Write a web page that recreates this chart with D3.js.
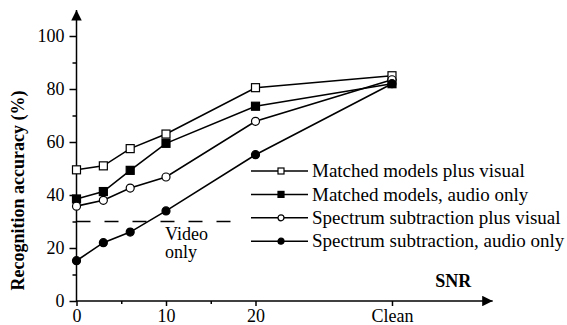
<!DOCTYPE html>
<html>
<head>
<meta charset="utf-8">
<script src="https://cdn.jsdelivr.net/npm/d3@7"></script>
<style>
  body { margin: 0; background: #fff; }
</style>
</head>
<body>
<div id="chart"></div>
<script>
// SNR positions; "Clean" sits past the end of the numeric axis
const CLEAN = 35.25;
const snr = [0, 3, 6, 10, 20, CLEAN];
const xTicks = [0, 10, 20, CLEAN];
const xTickLabels = ["0", "10", "20", "Clean"];
const xMinor = [5, 15];
const yTicks = [0, 20, 40, 60, 80, 100];
const yMinor = [10, 30, 50, 70, 90];

const seriesNames = [
  "Matched models plus visual",
  "Matched models, audio only",
  "Spectrum subtraction plus visual",
  "Spectrum subtraction, audio only"
];
const matchedVisual = [49.5, 51, 57.5, 63, 80.5, 85];
const matchedAudio = [38.5, 41.3, 49.3, 59.5, 73.5, 82];
const spectrumVisual = [35.8, 38, 42.6, 46.8, 67.8, 83.5];
const spectrumAudio = [15.2, 22, 26, 34, 55.2, 82];
const videoOnly = 30;
const videoLabel = ["Video", "only"];

const FONT = "'Liberation Serif', 'Times New Roman', serif";
const width = 567, height = 325;

const svg = d3.select("#chart").append("svg")
  .attr("width", width)
  .attr("height", height)
  .attr("font-family", FONT);

const x = d3.scaleLinear().domain([0, 20]).range([76.5, 255.5]);
const y = d3.scaleLinear().domain([0, 100]).range([301, 36]);

// axes with arrows
svg.append("defs").append("marker")
  .attr("id", "arrow")
  .attr("viewBox", "0 0 10 10")
  .attr("refX", 10).attr("refY", 5)
  .attr("markerWidth", 21).attr("markerHeight", 10.5)
  .attr("markerUnits", "userSpaceOnUse")
  .attr("orient", "auto")
  .append("path").attr("d", "M0,0L10,5L0,10Z").attr("fill", "#000");

svg.append("line")
  .attr("x1", x(0)).attr("y1", y(0))
  .attr("x2", x(46.5)).attr("y2", y(0))
  .attr("stroke", "#000").attr("stroke-width", 1.5)
  .attr("marker-end", "url(#arrow)");

svg.append("line")
  .attr("x1", x(0)).attr("y1", y(0) + 0.7)
  .attr("x2", x(0)).attr("y2", y(109.8))
  .attr("stroke", "#000").attr("stroke-width", 1.5)
  .attr("marker-end", "url(#arrow)");

const xAxis = d3.axisBottom(x)
  .tickValues(xTicks)
  .tickFormat((d, i) => xTickLabels[i])
  .tickSize(5)
  .tickPadding(3);
const gx = svg.append("g")
  .attr("transform", `translate(0,${y(0)})`)
  .call(xAxis)
  .attr("font-family", FONT)
  .attr("font-size", 18);
gx.select(".domain").remove();
gx.selectAll("line").attr("stroke-width", 1.5);

const xAxisMinor = d3.axisBottom(x).tickValues(xMinor).tickSize(3).tickFormat("");
const gxm = svg.append("g")
  .attr("transform", `translate(0,${y(0)})`)
  .call(xAxisMinor);
gxm.select(".domain").remove();
gxm.selectAll("line").attr("stroke-width", 1.5);

const yAxis = d3.axisLeft(y).tickValues(yTicks).tickSize(7).tickPadding(5);
const gy = svg.append("g")
  .attr("transform", `translate(${x(0)},0)`)
  .call(yAxis)
  .attr("font-family", FONT)
  .attr("font-size", 18);
gy.select(".domain").remove();
gy.selectAll("line").attr("stroke-width", 1.5);

const yAxisMinor = d3.axisLeft(y).tickValues(yMinor).tickSize(4).tickFormat("");
const gym = svg.append("g")
  .attr("transform", `translate(${x(0)},0)`)
  .call(yAxisMinor);
gym.select(".domain").remove();
gym.selectAll("line").attr("stroke-width", 1.5);

// axis titles
svg.append("text")
  .attr("transform", `translate(24,${(y(0) + y(100)) / 2 + 22}) rotate(-90)`)
  .attr("text-anchor", "middle")
  .attr("font-size", 18)
  .attr("font-weight", "bold")
  .text("Recognition accuracy (%)");

svg.append("text")
  .attr("x", x(42.1))
  .attr("y", 287)
  .attr("text-anchor", "middle")
  .attr("font-size", 18)
  .attr("font-weight", "bold")
  .text("SNR");

// video only reference
svg.append("line")
  .attr("x1", x(0)).attr("x2", x(17.5))
  .attr("y1", y(videoOnly)).attr("y2", y(videoOnly))
  .attr("stroke", "#000").attr("stroke-width", 1.3)
  .attr("stroke-dasharray", "14,14");

svg.append("text")
  .attr("y", 240)
  .attr("font-size", 18)
  .selectAll("tspan")
  .data(videoLabel)
  .join("tspan")
  .attr("x", x(9.9))
  .attr("dy", (d, i) => i ? 18 : 0)
  .text(d => d);

// series
const series = [
  { name: seriesNames[0], values: matchedVisual, shape: "square", fill: "#fff" },
  { name: seriesNames[1], values: matchedAudio, shape: "square", fill: "#000" },
  { name: seriesNames[2], values: spectrumVisual, shape: "circle", fill: "#fff" },
  { name: seriesNames[3], values: spectrumAudio, shape: "circle", fill: "#000" }
];

const line = d3.line()
  .x((d, i) => x(snr[i]))
  .y(d => y(d));

function drawMarker(g, s, cx, cy, size) {
  if (s.shape === "square") {
    g.append("rect")
      .attr("x", cx - size / 2).attr("y", cy - size / 2)
      .attr("width", size).attr("height", size)
      .attr("fill", s.fill).attr("stroke", "#000").attr("stroke-width", 1.2);
  } else {
    g.append("circle")
      .attr("cx", cx).attr("cy", cy).attr("r", size / 2)
      .attr("fill", s.fill).attr("stroke", "#000").attr("stroke-width", 1.2);
  }
}

series.forEach(s => {
  svg.append("path")
    .datum(s.values)
    .attr("fill", "none")
    .attr("stroke", "#000")
    .attr("stroke-width", 1.6)
    .attr("d", line);
});

series.forEach(s => {
  const g = svg.append("g");
  s.values.forEach((v, i) => drawMarker(g, s, x(snr[i]), y(v), 8));
});

// legend
const legend = svg.append("g").attr("transform", "translate(251,171)");
series.forEach((s, i) => {
  const row = legend.append("g").attr("transform", `translate(0,${i * 23.4})`);
  row.append("line")
    .attr("x1", 0).attr("x2", 57)
    .attr("stroke", "#000").attr("stroke-width", 1.5);
  drawMarker(row, s, 30, 0, 6);
  row.append("text")
    .attr("x", 61).attr("dy", "0.33em")
    .attr("font-size", 19)
    .text(s.name);
});
</script>
</body>
</html>
